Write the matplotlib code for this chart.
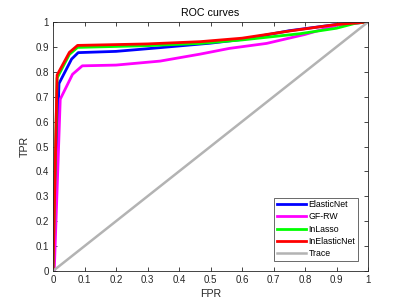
import matplotlib
matplotlib.use("Agg")
import matplotlib.pyplot as plt
import numpy as np

plt.rcParams['font.family'] = ['Liberation Sans', 'DejaVu Sans']

fpr_elastic = [0, 0.019, 0.059, 0.080, 0.20, 0.34, 0.50, 0.60, 0.75, 0.90, 1.0]
tpr_elastic = [0, 0.753, 0.851, 0.877, 0.882, 0.897, 0.915, 0.930, 0.965, 0.990, 1.0]

fpr_gfrw = [0, 0.004, 0.023, 0.062, 0.093, 0.20, 0.34, 0.467, 0.56, 0.678, 0.80, 0.91, 1.0]
tpr_gfrw = [0, 0.0, 0.690, 0.790, 0.824, 0.827, 0.843, 0.871, 0.894, 0.914, 0.950, 0.990, 1.0]

fpr_inlasso = [0, 0.013, 0.052, 0.078, 0.30, 0.467, 0.60, 0.784, 0.90, 0.96, 1.0]
tpr_inlasso = [0, 0.775, 0.870, 0.898, 0.905, 0.914, 0.928, 0.953, 0.975, 0.995, 1.0]

fpr_inelastic = [0, 0.013, 0.052, 0.078, 0.30, 0.467, 0.60, 0.752, 0.90, 1.0]
tpr_inelastic = [0, 0.787, 0.878, 0.906, 0.912, 0.921, 0.935, 0.964, 0.990, 1.0]

fpr_trace = [0, 1]
tpr_trace = [0, 1]

labels = ["ElasticNet", "GF-RW", "InLasso", "InElasticNet", "Trace"]

fig = plt.figure(figsize=(4.07, 3.05), dpi=100)
ax = fig.add_axes([53/407, 1 - 271/305, (368-53)/407, (271-22)/305])

ax.plot(fpr_elastic, tpr_elastic, color=(0, 0, 1), lw=2, label=labels[0])
ax.plot(fpr_gfrw, tpr_gfrw, color=(1, 0, 1), lw=2, label=labels[1])
ax.plot(fpr_inlasso, tpr_inlasso, color=(0, 1, 0), lw=2, label=labels[2])
ax.plot(fpr_inelastic, tpr_inelastic, color=(1, 0, 0), lw=2, label=labels[3])
ax.plot(fpr_trace, tpr_trace, color=(0.7, 0.7, 0.7), lw=1.8, label=labels[4])

ticks = np.round(np.arange(0, 1.01, 0.1), 1)
ticklabels = ["0" if t == 0 else ("1" if t == 1 else f"{t:.1f}") for t in ticks]
ax.set_xlim(0, 1)
ax.set_ylim(0, 1)
ax.set_xticks(ticks)
ax.set_xticklabels(ticklabels)
ax.set_yticks(ticks)
ax.set_yticklabels(ticklabels)
axcol = (0.15, 0.15, 0.15)
ax.tick_params(direction='in', top=True, right=True, length=3, width=0.6,
               labelsize=7, colors=axcol, pad=3)
for s in ax.spines.values():
    s.set_color(axcol)
    s.set_linewidth(0.6)

ax.set_title("ROC curves", fontsize=7.7, color='black', pad=4)
ax.set_xlabel("FPR", fontsize=7.7, color=axcol, labelpad=3)
ax.set_ylabel("TPR", fontsize=7.7, color=axcol, labelpad=4)

leg = ax.legend(loc='lower right', fontsize=6.3, frameon=True, fancybox=False,
                handlelength=3.3, handletextpad=0.35, borderpad=0.25,
                labelspacing=0.38, borderaxespad=1.2)
leg.get_frame().set_edgecolor(axcol)
leg.get_frame().set_linewidth(0.6)

fig.savefig("out.png", dpi=100)
